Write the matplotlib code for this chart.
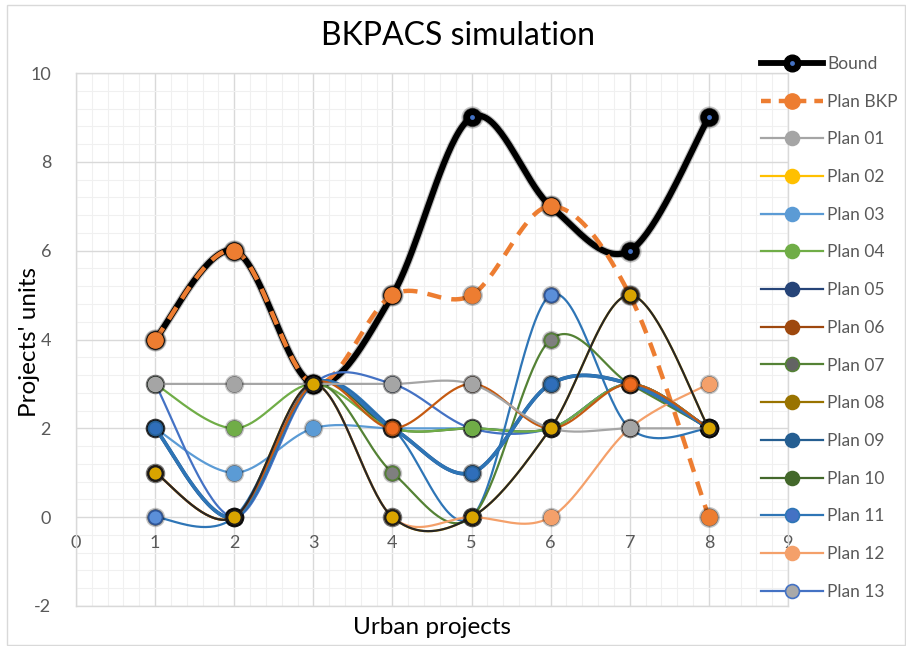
import numpy as np
import matplotlib
matplotlib.use("Agg")
import matplotlib.pyplot as plt
from matplotlib.lines import Line2D
from matplotlib.patches import Rectangle
from matplotlib.ticker import MultipleLocator

plt.rcParams['font.family'] = ['Lato', 'DejaVu Sans']

# ---- data -------------------------------------------------------------
projects = [1, 2, 3, 4, 5, 6, 7, 8]

bound    = [4, 6, 3, 5, 9, 7, 6, 9]
plan_bkp = [4, 6, 3, 5, 5, 7, 5, 0]

plan_01 = [3, 3, 3, 3, 3, 2, 2, 2]
plan_02 = [1, 0, 3, 0, 0, 2, 5, 2]
plan_03 = [2, 1, 2, 2, 2, 2, 3, 2]
plan_04 = [3, 2, 3, 2, 2, 2, 3, 2]
plan_05 = [2, 0, 3, 2, 1, 3, 3, 2]
plan_06 = [1, 0, 3, 2, 3, 2, 3, 2]
plan_07 = [2, 0, 3, 1, 0, 4, 3, 2]
plan_08 = [1, 0, 3, 0, 0, 2, 5, 2]
plan_09 = [2, 0, 3, 2, 1, 3, 3, 2]
plan_10 = [2, 0, 3, 2, 2, 2, 3, 2]
plan_11 = [0, 0, 3, 2, 0, 5, 2, 2]
plan_12 = [2, 0, 3, 0, 0, 0, 2, 3]
plan_13 = [3, 0, 3, 3, 2, 2, 3, 2]

x_ticks = list(range(0, 10))
y_ticks = list(range(-2, 11, 2))

# ---- styles: name -> (values, line colour, marker face, marker edge, zorder)
plans = {
    'Plan 01': (plan_01, '#A5A5A5', '#A5A5A5', '#A5A5A5', 22),
    'Plan 02': (plan_02, '#FFC000', '#FFC000', '#FFC000', 5),
    'Plan 03': (plan_03, '#5B9BD5', '#5B9BD5', '#5B9BD5', 6),
    'Plan 04': (plan_04, '#70AD47', '#70AD47', '#70AD47', 9),
    'Plan 05': (plan_05, '#264478', '#264478', '#264478', 14),
    'Plan 06': (plan_06, '#C55A11', '#ED6A1F', '#9E480E', 20),
    'Plan 07': (plan_07, '#548235', '#7F7F7F', '#548235', 11),
    'Plan 08': (plan_08, '#262626', '#D9A400', '#1A1A1A', 24),
    'Plan 09': (plan_09, '#2E75B6', '#2F6EBA', '#255E91', 15),
    'Plan 10': (plan_10, '#43682B', '#43682B', '#43682B', 7),
    'Plan 11': (plan_11, '#2E75B6', '#5B8FD9', '#2F5597', 10),
    'Plan 12': (plan_12, '#F4A06A', '#F4A06A', '#F4A06A', 12),
    'Plan 13': (plan_13, '#4472C4', '#A9A9A9', '#4472C4', 8),
}
legend_colors = {
    'Plan 01': ('#A5A5A5', '#A5A5A5', '#A5A5A5'),
    'Plan 02': ('#FFC000', '#FFC000', '#FFC000'),
    'Plan 03': ('#5B9BD5', '#5B9BD5', '#5B9BD5'),
    'Plan 04': ('#70AD47', '#70AD47', '#70AD47'),
    'Plan 05': ('#264478', '#264478', '#264478'),
    'Plan 06': ('#9E480E', '#9E480E', '#9E480E'),
    'Plan 07': ('#548235', '#636363', '#548235'),
    'Plan 08': ('#997300', '#997300', '#997300'),
    'Plan 09': ('#255E91', '#255E91', '#255E91'),
    'Plan 10': ('#43682B', '#43682B', '#43682B'),
    'Plan 11': ('#2E75B6', '#4472C4', '#2E75B6'),
    'Plan 12': ('#F4A06A', '#F4A06A', '#F4A06A'),
    'Plan 13': ('#4472C4', '#A9A9A9', '#4472C4'),
}


def smooth(xs, ys, n=40):
    """Catmull-Rom curve through the points, as spreadsheet 'smoothed line'."""
    P = np.column_stack([xs, ys]).astype(float)
    P = np.vstack([P[0], P, P[-1]])
    t = np.linspace(0, 1, n, endpoint=False)[:, None]
    segs = []
    for i in range(1, len(P) - 2):
        p0, p1, p2, p3 = P[i - 1], P[i], P[i + 1], P[i + 2]
        segs.append(0.5 * (2 * p1 + (-p0 + p2) * t
                           + (2 * p0 - 5 * p1 + 4 * p2 - p3) * t ** 2
                           + (-p0 + 3 * p1 - 3 * p2 + p3) * t ** 3))
    segs.append(P[-2][None])
    c = np.vstack(segs)
    return c[:, 0], c[:, 1]


W, H = 906, 646
fig = plt.figure(figsize=(W / 100, H / 100), dpi=100)
fig.patches.append(Rectangle((7 / W, 1 / H), (W - 8) / W, (H - 6) / H,
                             transform=fig.transFigure, fill=False,
                             edgecolor='#D9D9D9', lw=1.0))

ax = fig.add_axes([76 / W, (H - 606) / H, 712 / W, 533 / H])
ax.set_xlim(0, 9)
ax.set_ylim(-2, 10)

ax.xaxis.set_major_locator(MultipleLocator(1))
ax.xaxis.set_minor_locator(MultipleLocator(0.2))
ax.yaxis.set_major_locator(MultipleLocator(2))
ax.yaxis.set_minor_locator(MultipleLocator(0.4))
ax.grid(which='major', color='#D9D9D9', lw=1.0, zorder=0)
ax.grid(which='minor', color='#F0F0F0', lw=0.8, zorder=0)
ax.set_axisbelow(True)
for s in ax.spines.values():
    s.set_color('#D9D9D9')
    s.set_linewidth(1.0)
ax.tick_params(which='both', length=0, colors='#595959', labelsize=13)
ax.set_yticks(y_ticks)
ax.set_xticks(x_ticks)
ax.set_xticklabels([])
ax.set_yticklabels([str(v) for v in y_ticks])
ax.tick_params(axis='y', pad=18)
# horizontal axis labels sit just under the y = 0 line
for v in x_ticks:
    ax.text(v, -0.58, str(v), ha='center', va='center', fontsize=13,
            color='#595959', zorder=1)

# glow behind markers
def glow(xs, ys, ms, z):
    ax.plot(xs, ys, 'o', ms=ms + 4, color='black', alpha=0.22, zorder=z, mec='none')
    ax.plot(xs, ys, 'o', ms=ms + 2, color='black', alpha=0.45, zorder=z, mec='none')

# Bound
bx, by = smooth(projects, bound)
ax.plot(bx, by, color='black', lw=6, alpha=0.25, zorder=2, solid_capstyle='round')
ax.plot(bx, by, color='black', lw=4.4, zorder=2, solid_capstyle='round')
glow(projects, bound, 12, 2)
ax.plot(projects, bound, 'o', ms=12, color='black', zorder=2)
ax.plot(projects, bound, 'o', ms=3.5, color='#4472C4', zorder=2, mec='none')

# Plan BKP
kx, ky = smooth(projects, plan_bkp)
ax.plot(kx, ky, color='#ED7D31', lw=3.2, ls=(0, (3.2, 2.3)), zorder=3)
glow(projects, plan_bkp, 11, 3)
ax.plot(projects, plan_bkp, 'o', ms=11, color='#ED7D31', mec='#ED7D31', zorder=3)

# Plans
for name, (vals, lc, mfc, mec, z) in plans.items():
    sx, sy = smooth(projects, vals)
    lw = 1.6
    if name in ('Plan 05', 'Plan 09'):
        lw = 2.6
    ax.plot(sx, sy, color=lc, lw=lw, zorder=z, solid_capstyle='round')
    glow(projects, vals, 10, z)
    ax.plot(projects, vals, 'o', ms=10, mfc=mfc, mec=mec, mew=1.2, zorder=z)

# ---- text ------------------------------------------------------------
fig.text(458 / W, 1 - 36 / H, 'BKPACS simulation', ha='center', va='center',
         fontsize=23, color='black')
fig.text(30 / W, 1 - 342 / H, "Projects' units", ha='center', va='center',
         rotation=90, fontsize=17.5, color='black')
fig.text(432 / W, 1 - 627 / H, 'Urban projects', ha='center', va='center',
         fontsize=17.5, color='black')

# ---- legend ----------------------------------------------------------
handles = [
    (Line2D([], [], color='black', lw=4.2, marker='o', ms=12),
     Line2D([], [], ls='none', marker='o', ms=3.5, color='#4472C4', mec='none')),
    Line2D([], [], color='#ED7D31', lw=3.2, ls=(0, (2.2, 1.8)), marker='o', ms=11),
]
labels = ['Bound', 'Plan BKP']
for name in plans:
    lc, mfc, mec = legend_colors[name]
    handles.append(Line2D([], [], color=lc, lw=1.6, marker='o', ms=10,
                          mfc=mfc, mec=mec, mew=1.2))
    labels.append(name)

leg = fig.legend(handles, labels, loc='upper left',
                 bbox_to_anchor=(754 / W, 1 - 49 / H), frameon=False,
                 fontsize=12.5, handlelength=3.6, labelspacing=1.25,
                 handletextpad=0.2, borderaxespad=0)
for t in leg.get_texts():
    t.set_color('#595959')

fig.savefig('out.png', dpi=100)
